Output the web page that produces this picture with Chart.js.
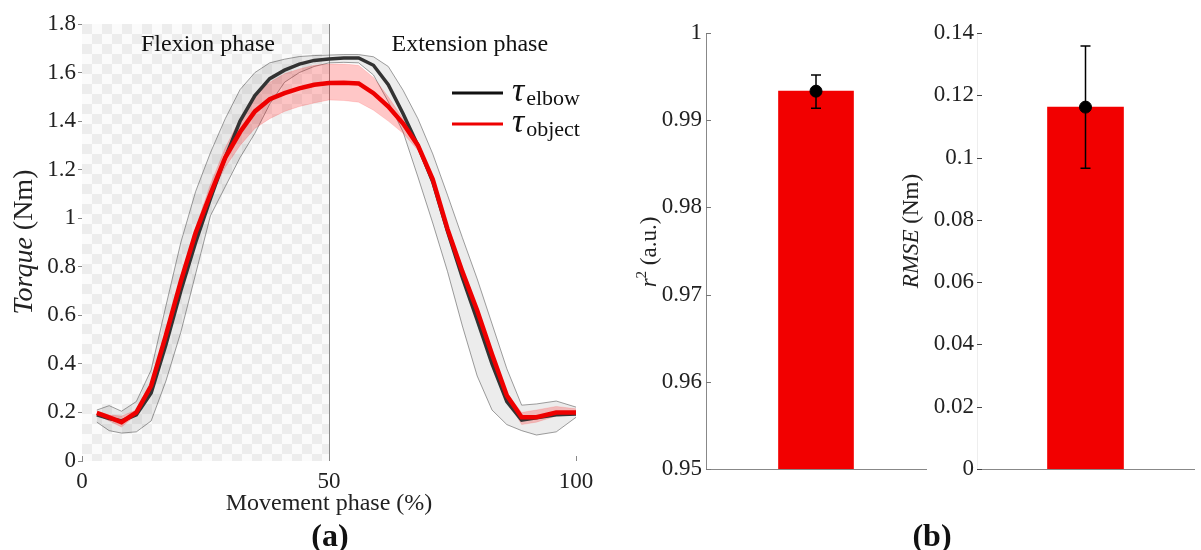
<!DOCTYPE html>
<html>
<head>
<meta charset="utf-8">
<script src="https://cdn.jsdelivr.net/npm/chart.js@4.4.1/dist/chart.umd.min.js"></script>
<style>
  body{margin:0;background:#fff;width:1201px;height:550px;overflow:hidden;position:relative;font-family:"Liberation Serif",serif;}
  canvas{position:absolute;top:0;}
  #torqueChart{left:0;}
  #r2Chart{left:620px;}
  #rmseChart{left:880px;}
  .panel{position:absolute;top:516px;font:bold 32px "Liberation Serif",serif;color:#111;transform:translateX(-50%);line-height:38px;}
</style>
</head>
<body>
<canvas id="torqueChart" width="620" height="550"></canvas>
<canvas id="r2Chart" width="313" height="550"></canvas>
<canvas id="rmseChart" width="321" height="550"></canvas>
<div class="panel" style="left:330px">(a)</div>
<div class="panel" style="left:932px">(b)</div>
<script>
/* DATA - panel (a) */
const phase       = [3,5.5,8,11,14,17,20,23,26,29,32,35,38,41,44,47,50,53,56,59,62,65,68,71,74,77,80,83,86,89,92,96,100];
const elbowMean   = [0.19,0.175,0.165,0.19,0.28,0.48,0.70,0.90,1.08,1.25,1.40,1.505,1.575,1.61,1.635,1.65,1.656,1.66,1.66,1.63,1.55,1.43,1.30,1.15,0.945,0.755,0.58,0.40,0.245,0.168,0.178,0.19,0.194];
const elbowUpper  = [0.21,0.228,0.205,0.245,0.375,0.64,0.90,1.11,1.27,1.41,1.53,1.60,1.64,1.655,1.666,1.67,1.672,1.674,1.674,1.665,1.625,1.527,1.41,1.265,1.095,0.92,0.75,0.565,0.38,0.23,0.235,0.247,0.222];
const elbowLower  = [0.16,0.125,0.115,0.12,0.165,0.33,0.53,0.77,1.01,1.13,1.25,1.35,1.47,1.56,1.60,1.625,1.64,1.642,1.64,1.59,1.48,1.355,1.17,0.98,0.78,0.556,0.35,0.21,0.15,0.125,0.107,0.12,0.18];
const objectMean  = [0.198,0.18,0.16,0.20,0.31,0.52,0.74,0.94,1.10,1.25,1.355,1.44,1.49,1.515,1.535,1.55,1.557,1.558,1.555,1.515,1.46,1.39,1.30,1.16,0.955,0.78,0.62,0.44,0.27,0.18,0.18,0.20,0.20];
const objectUpper = [0.205,0.19,0.185,0.21,0.32,0.53,0.76,0.96,1.14,1.29,1.41,1.50,1.56,1.595,1.615,1.63,1.635,1.635,1.63,1.58,1.50,1.41,1.31,1.17,0.97,0.80,0.63,0.45,0.28,0.20,0.21,0.225,0.215];
const objectLower = [0.19,0.165,0.14,0.19,0.30,0.51,0.72,0.92,1.09,1.21,1.30,1.37,1.41,1.44,1.46,1.475,1.487,1.485,1.478,1.445,1.40,1.35,1.28,1.14,0.94,0.77,0.60,0.42,0.25,0.15,0.16,0.185,0.19];
const flexionRange = [0,50];
const phaseNames   = ['Flexion phase','Extension phase'];
const legendSymbol = ['τ','τ'];
const legendSub    = ['elbow','object'];

/* DATA - panel (b) */
const barCategory = [''];
const r2Mean   = [0.99333];
const r2Low    = [0.99138];
const r2High   = [0.99517];
const rmseMean = [0.1162];
const rmseLow  = [0.0966];
const rmseHigh = [0.1358];

Chart.defaults.font.family = '"Liberation Serif", serif';
Chart.defaults.color = '#222';
Chart.defaults.animation = false;

const SERIF = '"Liberation Serif", serif';
const pts = arr => phase.map((x,i)=>({x:x,y:arr[i]}));
const plainNum = {minimumFractionDigits:0, maximumFractionDigits:2};

/* checkered flexion region + phase divider */
const phaseShade = {
  id:'phaseShade',
  beforeDatasetsDraw(chart){
    const {ctx, chartArea:a, scales:{x}} = chart;
    const x0 = x.getPixelForValue(flexionRange[0]), x1 = x.getPixelForValue(flexionRange[1]);
    const tile = document.createElement('canvas'); tile.width=20; tile.height=20;
    const g = tile.getContext('2d');
    g.fillStyle='#fbfbfb'; g.fillRect(0,0,20,20);
    g.fillStyle='#ededed'; g.fillRect(0,0,10,10); g.fillRect(10,10,10,10);
    const pat = ctx.createPattern(tile,'repeat');
    pat.setTransform(new DOMMatrix().translate(a.left,a.top));
    ctx.save();
    ctx.fillStyle = pat;
    ctx.fillRect(x0,a.top,x1-x0,a.bottom-a.top);
    ctx.strokeStyle='#8a8a8a'; ctx.lineWidth=1;
    ctx.beginPath(); ctx.moveTo(Math.round(x1)+0.5,a.top); ctx.lineTo(Math.round(x1)+0.5,a.bottom); ctx.stroke();
    ctx.restore();
  },
  afterDatasetsDraw(chart,args,o){
    const {ctx, chartArea:a, scales:{x}} = chart;
    ctx.save();
    ctx.font='24px '+SERIF; ctx.fillStyle='#111'; ctx.textAlign='center'; ctx.textBaseline='alphabetic';
    phaseNames.forEach((t,i)=>ctx.fillText(t, x.getPixelForValue(o.centers[i]), a.top+o.offset));
    ctx.restore();
  }
};

/* legend with subscripts */
const subLegend = {
  id:'subLegend',
  afterDraw(chart,args,o){
    const {ctx} = chart;
    ctx.save();
    legendSymbol.forEach((s,i)=>{
      const y = o.y + i*o.dy;
      ctx.strokeStyle = o.colors[i]; ctx.lineWidth=3;
      ctx.beginPath(); ctx.moveTo(o.x,y); ctx.lineTo(o.x+o.len,y); ctx.stroke();
      ctx.fillStyle='#111'; ctx.textAlign='left'; ctx.textBaseline='alphabetic';
      ctx.font='italic 34px '+SERIF;
      const tx = o.x+o.len+9;
      ctx.fillText(s,tx,y+8);
      const w = ctx.measureText(s).width;
      ctx.font='22px '+SERIF;
      ctx.fillText(legendSub[i],tx+w+2,y+12);
    });
    ctx.restore();
  }
};

/* rotated axis title with mixed styles */
const sideTitle = {
  id:'sideTitle',
  afterDraw(chart,args,o){
    const {ctx} = chart;
    const fontOf = p => (p.italic?'italic ':'')+(p.sup?Math.round(o.size*0.65):o.size)+'px '+SERIF;
    ctx.save();
    ctx.translate(o.x,o.y); ctx.rotate(-Math.PI/2);
    ctx.fillStyle='#222'; ctx.textAlign='left'; ctx.textBaseline='middle';
    let total=0;
    o.parts.forEach(p=>{ctx.font=fontOf(p); total+=ctx.measureText(p.text).width;});
    let cx=-total/2;
    o.parts.forEach(p=>{
      ctx.font=fontOf(p);
      ctx.fillText(p.text,cx,p.sup?-o.size*0.35:0);
      cx+=ctx.measureText(p.text).width;
    });
    ctx.restore();
  }
};

/* ticks pointing into the plot */
const innerTicks = {
  id:'innerTicks',
  afterDraw(chart,args,o){
    const {ctx, chartArea:a} = chart;
    ctx.save(); ctx.strokeStyle=o.color; ctx.lineWidth=1;
    if(o.y){
      const s=chart.scales.y;
      s.ticks.forEach(t=>{const py=Math.round(s.getPixelForValue(t.value))+0.5;
        ctx.beginPath(); ctx.moveTo(a.left,py); ctx.lineTo(a.left+o.y,py); ctx.stroke();});
    }
    if(o.x){
      const s=chart.scales.x;
      s.ticks.forEach(t=>{const px=Math.round(s.getPixelForValue(t.value))+0.5;
        ctx.beginPath(); ctx.moveTo(px,a.bottom); ctx.lineTo(px,a.bottom-o.x); ctx.stroke();});
    }
    ctx.restore();
  }
};

/* error bars for the bar panels */
const errorBars = {
  id:'errorBars',
  afterDatasetsDraw(chart,args,o){
    const {ctx, scales:{x,y}} = chart;
    ctx.save(); ctx.strokeStyle='#000'; ctx.lineWidth=1.5;
    o.low.forEach((lo,i)=>{
      const px=x.getPixelForValue(i), y1=y.getPixelForValue(lo), y2=y.getPixelForValue(o.high[i]);
      ctx.beginPath();
      ctx.moveTo(px,y1); ctx.lineTo(px,y2);
      ctx.moveTo(px-o.cap,y1); ctx.lineTo(px+o.cap,y1);
      ctx.moveTo(px-o.cap,y2); ctx.lineTo(px+o.cap,y2);
      ctx.stroke();
    });
    ctx.restore();
  }
};

/* PANEL (a) */
new Chart(document.getElementById('torqueChart'),{
  type:'line',
  data:{datasets:[
    {data:pts(elbowLower), borderColor:'rgba(80,80,80,0.55)', borderWidth:1, pointRadius:0, fill:false, order:5},
    {data:pts(elbowUpper), borderColor:'rgba(80,80,80,0.55)', borderWidth:1, pointRadius:0, fill:'-1', backgroundColor:'rgba(0,0,0,0.075)', order:4},
    {data:pts(objectLower), borderColor:'rgba(255,0,0,0.12)', borderWidth:1, pointRadius:0, fill:false, order:3},
    {data:pts(objectUpper), borderColor:'rgba(255,0,0,0.12)', borderWidth:1, pointRadius:0, fill:'-1', backgroundColor:'rgba(255,0,0,0.22)', order:2},
    {label:'elbow', data:pts(elbowMean), borderColor:'#333333', borderWidth:3.5, pointRadius:0, fill:false, order:1},
    {label:'object', data:pts(objectMean), borderColor:'#ee0000', borderWidth:4.5, pointRadius:0, fill:false, order:0}
  ]},
  options:{
    responsive:false,
    layout:{padding:{top:24,right:44,bottom:0,left:0}},
    plugins:{
      legend:{display:false}, tooltip:{enabled:false},
      phaseShade:{centers:[25.5,78.5], offset:27},
      subLegend:{x:452, y:93, dy:31, len:51, colors:['#111','#ee0000']},
      sideTitle:{x:25, y:242, size:28, parts:[{text:'Torque',italic:true},{text:' (Nm)'}]},
      innerTicks:{x:5, color:'#888'}
    },
    scales:{
      x:{type:'linear', min:0, max:100,
        ticks:{stepSize:50, padding:7, font:{size:23}, format:plainNum},
        grid:{display:false, drawTicks:false}, border:{display:false},
        title:{display:true, text:'Movement phase (%)', font:{size:24}, color:'#222', padding:{top:0,bottom:32}},
        afterFit:s=>{s.height=89;}},
      y:{min:0, max:1.8,
        ticks:{stepSize:0.2, padding:2, font:{size:23}, format:plainNum},
        grid:{display:true, drawOnChartArea:false, drawTicks:true, tickLength:4, color:'#888'},
        border:{color:'#888'},
        afterFit:s=>{s.width=82;}}
    }
  },
  plugins:[phaseShade, subLegend, sideTitle, innerTicks]
});

/* PANEL (b) - r squared */
new Chart(document.getElementById('r2Chart'),{
  type:'bar',
  data:{labels:barCategory, datasets:[
    {type:'line', data:r2Mean, showLine:false, pointRadius:6, pointBackgroundColor:'#000', pointBorderColor:'#000', order:0},
    {data:r2Mean, backgroundColor:'#f20000', barThickness:75, order:1}
  ]},
  options:{
    responsive:false,
    layout:{padding:{top:33,right:0,bottom:0,left:0}},
    plugins:{
      legend:{display:false}, tooltip:{enabled:false},
      errorBars:{low:r2Low, high:r2High, cap:5},
      sideTitle:{x:30, y:252, size:23, parts:[{text:'r',italic:true},{text:'2',sup:true},{text:' (a.u.)'}]},
      innerTicks:{y:5, color:'#777'}
    },
    scales:{
      x:{grid:{display:false, drawTicks:false}, ticks:{display:false}, border:{color:'#888'}, afterFit:s=>{s.height=81;}},
      y:{min:0.95, max:1,
        ticks:{stepSize:0.01, padding:4, font:{size:23}, format:plainNum},
        grid:{display:false, drawTicks:false}, border:{color:'#888'},
        afterFit:s=>{s.width=86;}}
    }
  },
  plugins:[errorBars, sideTitle, innerTicks]
});

/* PANEL (b) - RMSE */
new Chart(document.getElementById('rmseChart'),{
  type:'bar',
  data:{labels:barCategory, datasets:[
    {type:'line', data:rmseMean, showLine:false, pointRadius:6, pointBackgroundColor:'#000', pointBorderColor:'#000', order:0},
    {data:rmseMean, backgroundColor:'#f20000', barThickness:76, order:1}
  ]},
  options:{
    responsive:false,
    layout:{padding:{top:33,right:0,bottom:0,left:0}},
    plugins:{
      legend:{display:false}, tooltip:{enabled:false},
      errorBars:{low:rmseLow, high:rmseHigh, cap:5},
      sideTitle:{x:32, y:231, size:23, parts:[{text:'RMSE',italic:true},{text:' (Nm)'}]},
      innerTicks:{y:5, color:'#444'}
    },
    scales:{
      x:{grid:{display:false, drawTicks:false}, ticks:{display:false}, border:{color:'#888'}, afterFit:s=>{s.height=81;}},
      y:{min:0, max:0.14,
        ticks:{stepSize:0.02, padding:3, font:{size:23}, format:plainNum},
        grid:{display:false, drawTicks:false}, border:{color:'#eeeeee'},
        afterFit:s=>{s.width=97;}}
    }
  },
  plugins:[errorBars, sideTitle, innerTicks]
});
</script>
</body>
</html>
